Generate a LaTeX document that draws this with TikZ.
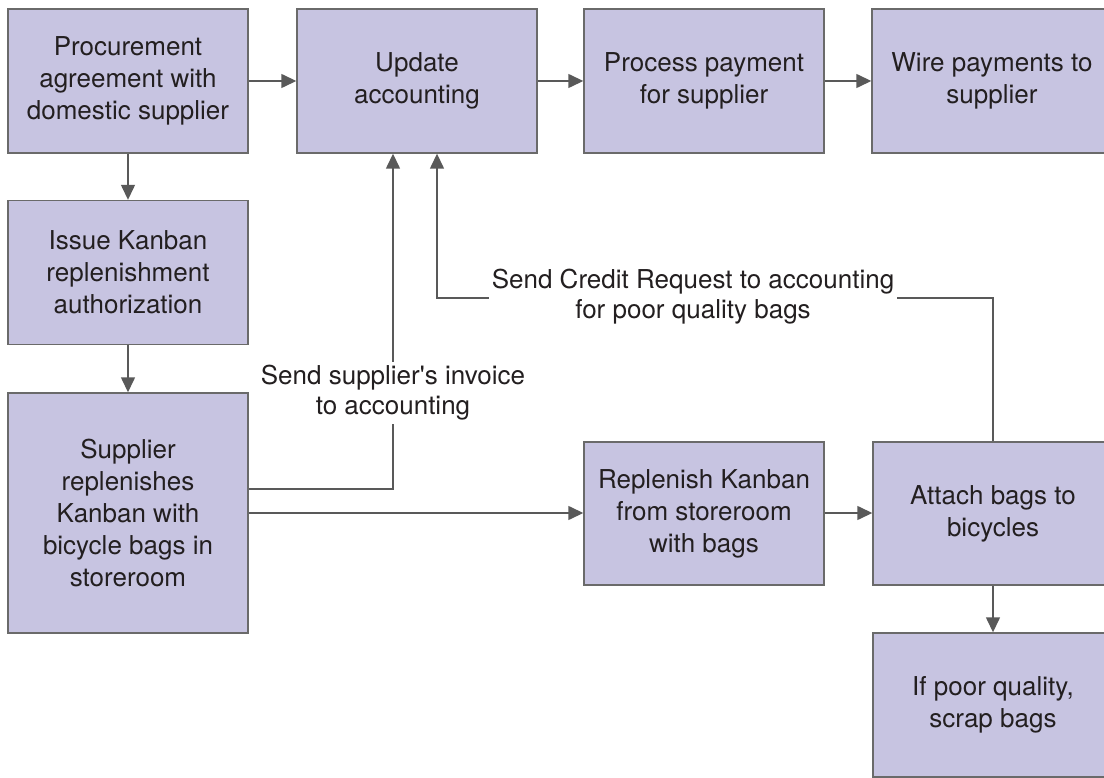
\documentclass[tikz,border=0pt]{standalone}
\usepackage{fontspec}
\setmainfont{TeX Gyre Heros}
\usetikzlibrary{arrows.meta}
\definecolor{boxfill}{HTML}{C7C4E1}
\definecolor{edgecol}{HTML}{6A6A6A}
\definecolor{arrcol}{HTML}{595959}
\definecolor{txtcol}{HTML}{231F20}
\begin{document}
\begin{tikzpicture}[x=1pt,y=-1pt,
  box/.style={draw=edgecol, line width=1.4pt, fill=boxfill, minimum width=240pt, minimum height=144pt, align=center, font=\fontsize{26}{32}\selectfont, text=txtcol, inner sep=0pt},
  conn/.style={draw=arrcol, line width=1.4pt, -{Triangle[length=15pt,width=14pt]}},
  lbl/.style={fill=white, align=center, font=\fontsize{26}{30}\selectfont, text=txtcol, inner sep=3pt}]
\useasboundingbox (0,0) rectangle (1104,778);
\clip (0,0) rectangle (1104,778);
\node[box] (p1) at (128,81) {Procurement\\agreement with\\domestic supplier};
\node[box] (p2) at (417,81) {Update\\accounting};
\node[box] (p3) at (704,81) {Process payment\\for supplier};
\node[box] (p4) at (992,81) {Wire payments to\\supplier};
\node[box] (p5) at (128,272.5) {Issue Kanban\\replenishment\\authorization};
\node[box, minimum height=240pt] (p6) at (128,513) {Supplier\\replenishes\\Kanban with\\bicycle bags in\\storeroom};
\node[box, minimum height=143pt] (p7) at (704,513.5) {Replenish Kanban\\from storeroom\\with bags};
\node[box, minimum height=143pt] (p8) at (993,513.5) {Attach bags to\\bicycles};
\node[box] (p9) at (993,705) {If poor quality,\\scrap bags};
\draw[conn] (p1) -- (p2);
\draw[conn] (p2) -- (p3);
\draw[conn] (p3) -- (p4);
\draw[conn] (p1) -- (p5);
\draw[conn] (p5) -- (p6);
\draw[conn] (p6.east) -- (p6.east -| p7.west);
\draw[conn] (p7.east |- p6.east) -- (p6.east -| p8.west);
\draw[conn] (p8) -- (p9);
\coordinate (inv) at (393,489);
\draw[conn] (p6.east |- inv) -- (inv) -- (p2.south -| inv);
\coordinate (cr1) at (993,298);
\coordinate (cr2) at (437,298);
\draw[conn] (p8.north) -- (cr1) -- (cr2) -- (p2.south -| cr2);
\node[lbl] (l1) at (393,393) {Send supplier\textquotesingle s invoice\\to accounting};
\node[lbl] (l2) at (693,297) {Send Credit Request to accounting\\for poor quality bags};
\end{tikzpicture}
\end{document}
